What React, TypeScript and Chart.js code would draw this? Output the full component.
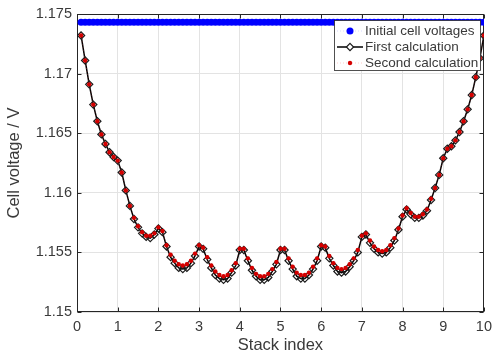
import React, { useEffect, useRef } from "react";
import { Chart, registerables } from "chart.js";

Chart.register(...registerables);

const stackIndex = [
  0.1, 0.2, 0.3, 0.4, 0.5, 0.6, 0.7, 0.8, 0.9, 1.0,
  1.1, 1.2, 1.3, 1.4, 1.5, 1.6, 1.7, 1.8, 1.9, 2.0,
  2.1, 2.2, 2.3, 2.4, 2.5, 2.6, 2.7, 2.8, 2.9, 3.0,
  3.1, 3.2, 3.3, 3.4, 3.5, 3.6, 3.7, 3.8, 3.9, 4.0,
  4.1, 4.2, 4.3, 4.4, 4.5, 4.6, 4.7, 4.8, 4.9, 5.0,
  5.1, 5.2, 5.3, 5.4, 5.5, 5.6, 5.7, 5.8, 5.9, 6.0,
  6.1, 6.2, 6.3, 6.4, 6.5, 6.6, 6.7, 6.8, 6.9, 7.0,
  7.1, 7.2, 7.3, 7.4, 7.5, 7.6, 7.7, 7.8, 7.9, 8.0,
  8.1, 8.2, 8.3, 8.4, 8.5, 8.6, 8.7, 8.8, 8.9, 9.0,
  9.1, 9.2, 9.3, 9.4, 9.5, 9.6, 9.7, 9.8, 9.9, 10.0,
];

const initialVoltages = [
  1.1743, 1.1743, 1.1743, 1.1743, 1.1743, 1.1743, 1.1743, 1.1743, 1.1743, 1.1743,
  1.1743, 1.1743, 1.1743, 1.1743, 1.1743, 1.1743, 1.1743, 1.1743, 1.1743, 1.1743,
  1.1743, 1.1743, 1.1743, 1.1743, 1.1743, 1.1743, 1.1743, 1.1743, 1.1743, 1.1743,
  1.1743, 1.1743, 1.1743, 1.1743, 1.1743, 1.1743, 1.1743, 1.1743, 1.1743, 1.1743,
  1.1743, 1.1743, 1.1743, 1.1743, 1.1743, 1.1743, 1.1743, 1.1743, 1.1743, 1.1743,
  1.1743, 1.1743, 1.1743, 1.1743, 1.1743, 1.1743, 1.1743, 1.1743, 1.1743, 1.1743,
  1.1743, 1.1743, 1.1743, 1.1743, 1.1743, 1.1743, 1.1743, 1.1743, 1.1743, 1.1743,
  1.1743, 1.1743, 1.1743, 1.1743, 1.1743, 1.1743, 1.1743, 1.1743, 1.1743, 1.1743,
  1.1743, 1.1743, 1.1743, 1.1743, 1.1743, 1.1743, 1.1743, 1.1743, 1.1743, 1.1743,
  1.1743, 1.1743, 1.1743, 1.1743, 1.1743, 1.1743, 1.1743, 1.1743, 1.1743, 1.1743,
];

const firstCalculation = [
  1.1732, 1.1711, 1.1691, 1.1674, 1.1660, 1.1649, 1.1641, 1.1634, 1.1630, 1.1627,
  1.1617, 1.1602, 1.1589, 1.1578, 1.1571, 1.1566, 1.1563, 1.1562, 1.1565, 1.1570,
  1.1567, 1.1555, 1.1546, 1.1541, 1.1537, 1.1536, 1.1537, 1.1541, 1.1547, 1.1555,
  1.1553, 1.1544, 1.1537, 1.1531, 1.1528, 1.1527, 1.1528, 1.1533, 1.1539, 1.1552,
  1.1552, 1.1543, 1.1535, 1.1530, 1.1527, 1.1527, 1.1529, 1.1534, 1.1540, 1.1552,
  1.1552, 1.1543, 1.1536, 1.1530, 1.1528, 1.1528, 1.1531, 1.1536, 1.1543, 1.1555,
  1.1554, 1.1545, 1.1539, 1.1534, 1.1533, 1.1534, 1.1538, 1.1543, 1.1550, 1.1563,
  1.1565, 1.1558, 1.1553, 1.1550, 1.1549, 1.1550, 1.1554, 1.1560, 1.1569, 1.1580,
  1.1586, 1.1582, 1.1579, 1.1579, 1.1581, 1.1585, 1.1594, 1.1604, 1.1615, 1.1629,
  1.1637, 1.1639, 1.1644, 1.1651, 1.1660, 1.1670, 1.1682, 1.1697, 1.1713, 1.1732,
];

const secondCalculation = [
  1.1732, 1.1711, 1.1691, 1.1674, 1.1660, 1.1649, 1.1641, 1.1634, 1.1630, 1.1627,
  1.1617, 1.1602, 1.1589, 1.1579, 1.1572, 1.1567, 1.1564, 1.1564, 1.1566, 1.1571,
  1.1568, 1.1556, 1.1548, 1.1543, 1.1540, 1.1539, 1.1540, 1.1543, 1.1549, 1.1556,
  1.1554, 1.1546, 1.1539, 1.1534, 1.1531, 1.1530, 1.1531, 1.1535, 1.1541, 1.1553,
  1.1553, 1.1545, 1.1537, 1.1532, 1.1530, 1.1530, 1.1532, 1.1536, 1.1542, 1.1553,
  1.1553, 1.1545, 1.1538, 1.1533, 1.1531, 1.1531, 1.1533, 1.1538, 1.1545, 1.1556,
  1.1555, 1.1547, 1.1541, 1.1537, 1.1536, 1.1537, 1.1540, 1.1545, 1.1552, 1.1564,
  1.1566, 1.1560, 1.1555, 1.1552, 1.1551, 1.1552, 1.1556, 1.1562, 1.1570, 1.1581,
  1.1587, 1.1583, 1.1580, 1.1580, 1.1582, 1.1586, 1.1595, 1.1604, 1.1615, 1.1629,
  1.1637, 1.1639, 1.1644, 1.1651, 1.1660, 1.1670, 1.1682, 1.1697, 1.1713, 1.1732,
];

const seriesNames = ["Initial cell voltages", "First calculation", "Second calculation"];
const xTickValues = [0, 1, 2, 3, 4, 5, 6, 7, 8, 9, 10];
const xTickLabels = ["0", "1", "2", "3", "4", "5", "6", "7", "8", "9", "10"];
const yTickValues = [1.15, 1.155, 1.16, 1.165, 1.17, 1.175];
const yTickLabels = ["1.15", "1.155", "1.16", "1.165", "1.17", "1.175"];
const xAxisTitle = "Stack index";
const yAxisTitle = "Cell voltage / V";

const FONT = "'Liberation Sans', Arial, Helvetica, sans-serif";
const AXIS_COLOR = "#262626";
const TEXT_COLOR = "#3a3a3a";
const GRID_COLOR = "#e3e3e3";

function drawMarker(ctx: CanvasRenderingContext2D, style: string, x: number, y: number, r: number, fill: string, stroke: string, lw: number) {
  ctx.beginPath();
  if (style === "rectRot") {
    ctx.moveTo(x, y - r);
    ctx.lineTo(x + r, y);
    ctx.lineTo(x, y + r);
    ctx.lineTo(x - r, y);
    ctx.closePath();
  } else {
    ctx.arc(x, y, r, 0, Math.PI * 2);
  }
  if (fill && fill !== "transparent") {
    ctx.fillStyle = fill;
    ctx.fill();
  }
  if (lw > 0) {
    ctx.strokeStyle = stroke;
    ctx.lineWidth = lw;
    ctx.stroke();
  }
}

const framePlugin = {
  id: "matlabFrame",
  beforeDatasetsDraw(chart: any) {
    const { ctx, chartArea: a, scales } = chart;
    ctx.save();
    ctx.strokeStyle = AXIS_COLOR;
    ctx.lineWidth = 1;
    const L = Math.round(a.left) + 0.5;
    const R = Math.round(a.right) - 0.5;
    const T = Math.round(a.top) + 0.5;
    const B = Math.round(a.bottom) - 0.5;
    ctx.strokeRect(L, T, R - L, B - T);
    const tl = 4;
    ctx.beginPath();
    xTickValues.forEach((v) => {
      const px = Math.round(scales.x.getPixelForValue(v)) + 0.5;
      ctx.moveTo(px, B);
      ctx.lineTo(px, B - tl);
      ctx.moveTo(px, T);
      ctx.lineTo(px, T + tl);
    });
    yTickValues.forEach((v) => {
      const py = Math.round(scales.y.getPixelForValue(v)) + 0.5;
      ctx.moveTo(L, py);
      ctx.lineTo(L + tl, py);
      ctx.moveTo(R, py);
      ctx.lineTo(R - tl, py);
    });
    ctx.stroke();
    ctx.restore();
  },
};

const legendPlugin = {
  id: "matlabLegend",
  afterDraw(chart: any) {
    const { ctx } = chart;
    const boxL = 334.5, boxT = 20.5, boxW = 146, boxH = 50;
    ctx.save();
    ctx.fillStyle = "#ffffff";
    ctx.fillRect(boxL, boxT, boxW, boxH);
    ctx.strokeStyle = AXIS_COLOR;
    ctx.lineWidth = 0.8;
    ctx.strokeRect(boxL, boxT, boxW, boxH);
    ctx.font = `13.5px ${FONT}`;
    ctx.textBaseline = "middle";
    ctx.textAlign = "left";
    const rows = [31, 47, 63];
    chart.data.datasets.forEach((ds: any, i: number) => {
      const y = rows[i];
      const x0 = 337, x1 = 363, xm = 350;
      ctx.save();
      ctx.strokeStyle = ds.borderColor;
      ctx.lineWidth = ds.borderWidth;
      ctx.setLineDash(ds.borderDash || []);
      ctx.beginPath();
      ctx.moveTo(x0, y);
      ctx.lineTo(x1, y);
      ctx.stroke();
      ctx.restore();
      drawMarker(ctx, ds.pointStyle, xm, y, ds.pointRadius, ds.legendFill || ds.pointBackgroundColor, ds.pointBorderColor, ds.pointBorderWidth);
      ctx.fillStyle = TEXT_COLOR;
      ctx.fillText(ds.label, 365, y + 0.5);
    });
    ctx.restore();
  },
};

export default function App() {
  const canvasRef = useRef<HTMLCanvasElement | null>(null);

  useEffect(() => {
    if (!canvasRef.current) return;
    const toPoints = (ys: number[]) => stackIndex.map((x, i) => ({ x, y: ys[i] }));
    const chart = new Chart(canvasRef.current, {
      type: "line",
      data: {
        datasets: [
          {
            label: seriesNames[0],
            data: toPoints(initialVoltages),
            showLine: true,
            borderColor: "rgba(120,120,255,0.6)",
            borderWidth: 0.5,
            borderDash: [1, 2],
            pointStyle: "circle",
            pointRadius: 3.5,
            pointBackgroundColor: "#0000ff",
            pointBorderColor: "#0000ff",
            pointBorderWidth: 0,
            order: 3,
          } as any,
          {
            label: seriesNames[1],
            data: toPoints(firstCalculation),
            showLine: true,
            borderColor: "#000000",
            borderWidth: 1.5,
            pointStyle: "rectRot",
            pointRadius: 3.6,
            pointBackgroundColor: "transparent",
            pointBorderColor: "#1a1a1a",
            pointBorderWidth: 1.2,
            legendFill: "#ffffff",
            order: 2,
          } as any,
          {
            label: seriesNames[2],
            data: toPoints(secondCalculation),
            showLine: true,
            borderColor: "rgba(255,80,80,0.6)",
            borderWidth: 0.5,
            borderDash: [1, 2],
            pointStyle: "circle",
            pointRadius: 2.2,
            pointBackgroundColor: "#d40000",
            pointBorderColor: "#d40000",
            pointBorderWidth: 0,
            order: 1,
          } as any,
        ],
      },
      options: {
        responsive: false,
        animation: false,
        devicePixelRatio: 1,
        events: [],
        layout: { padding: { top: 14, right: 10, left: 0, bottom: 0 } },
        plugins: { legend: { display: false }, tooltip: { enabled: false } },
        elements: { line: { tension: 0 } },
        scales: {
          x: {
            type: "linear",
            min: 0,
            max: 10,
            afterFit: (s: any) => { s.height = 44; },
            afterBuildTicks: (s: any) => { s.ticks = xTickValues.map((v) => ({ value: v })); },
            grid: { color: GRID_COLOR, drawTicks: false, lineWidth: 1 },
            border: { display: false },
            ticks: {
              padding: 6,
              color: TEXT_COLOR,
              font: { family: FONT, size: 14.5 },
              maxRotation: 0,
              callback: (_v: any, i: number) => xTickLabels[i],
            },
            title: {
              display: true,
              text: xAxisTitle,
              color: TEXT_COLOR,
              font: { family: FONT, size: 16.5 },
              padding: { top: 0, bottom: 1 },
            },
          },
          y: {
            type: "linear",
            min: 1.15,
            max: 1.175,
            afterFit: (s: any) => { s.width = 77; },
            afterBuildTicks: (s: any) => { s.ticks = yTickValues.map((v) => ({ value: v })); },
            grid: { color: GRID_COLOR, drawTicks: false, lineWidth: 1 },
            border: { display: false },
            ticks: {
              padding: 5,
              color: TEXT_COLOR,
              font: { family: FONT, size: 14.5 },
              callback: (_v: any, i: number) => yTickLabels[i],
            },
            title: {
              display: true,
              text: yAxisTitle,
              color: TEXT_COLOR,
              font: { family: FONT, size: 16.5 },
              padding: { top: 5, bottom: 0 },
            },
          },
        },
      } as any,
      plugins: [framePlugin, legendPlugin],
    });
    return () => chart.destroy();
  }, []);

  return (
    <div style={{ position: "absolute", left: 0, top: 0, width: 498, height: 356, background: "#ffffff" }}>
      <canvas ref={canvasRef} width={498} height={356} style={{ width: 498, height: 356, display: "block" }} />
    </div>
  );
}
